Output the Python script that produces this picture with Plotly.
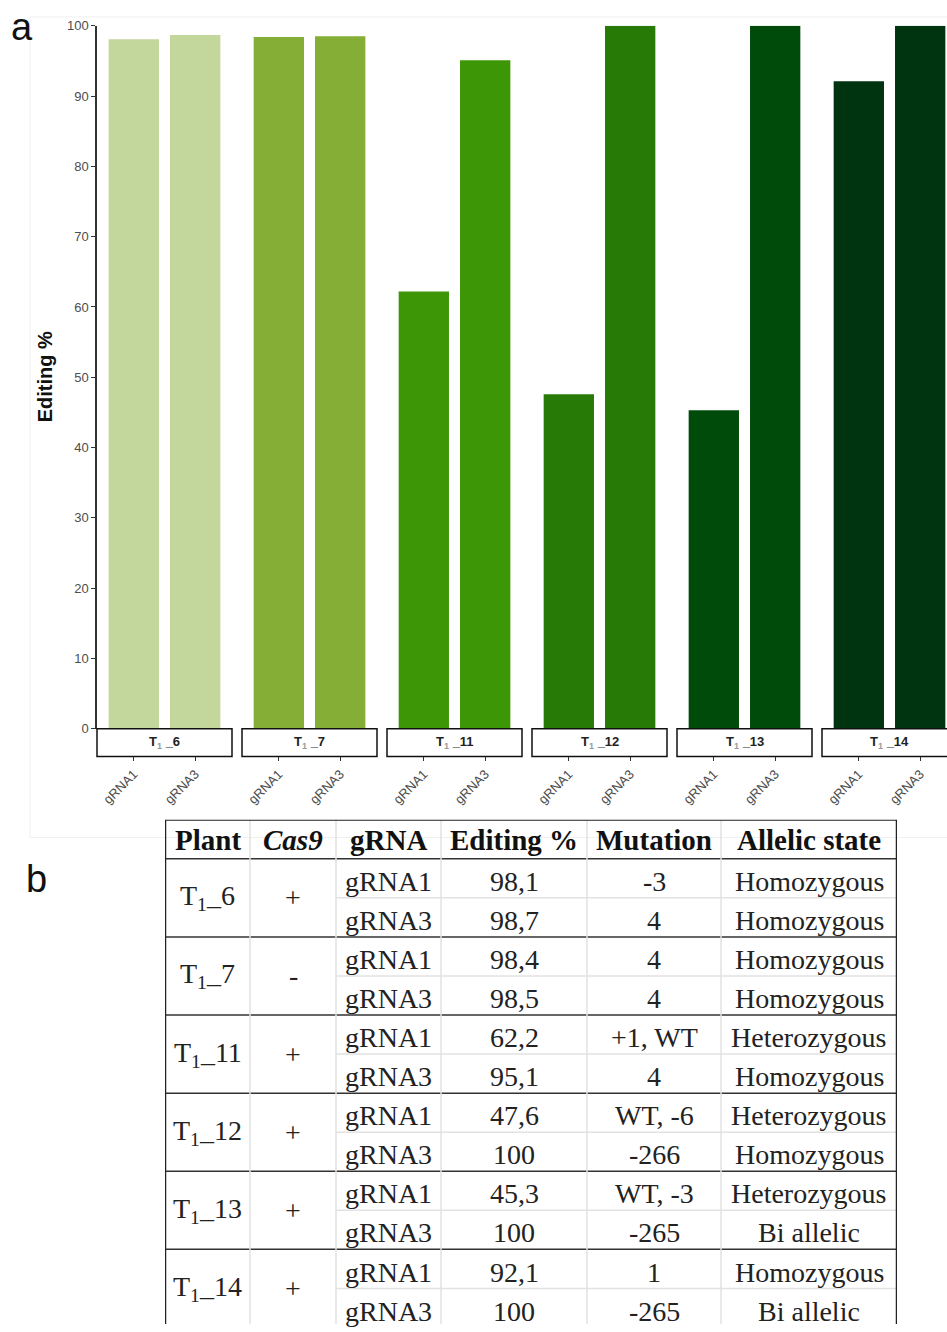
import plotly.graph_objects as go

# ---------------- data ----------------
plants = ["T1_6", "T1_7", "T1_11", "T1_12", "T1_13", "T1_14"]
plant_nums = ["6", "7", "11", "12", "13", "14"]
grnas = ["gRNA1", "gRNA3"]
editing = [[98.1, 98.7], [98.4, 98.5], [62.2, 95.1], [47.6, 100], [45.3, 100], [92.1, 100]]
cas9 = ["+", "-", "+", "+", "+", "+"]
mutation = [["-3", "4"], ["4", "4"], ["+1, WT", "4"], ["WT, -6", "-266"], ["WT, -3", "-265"], ["1", "-265"]]
allelic = [["Homozygous", "Homozygous"], ["Homozygous", "Homozygous"],
           ["Heterozygous", "Homozygous"], ["Heterozygous", "Homozygous"],
           ["Heterozygous", "Bi allelic"], ["Homozygous", "Bi allelic"]]
colors = ["#c3d69b", "#84ae36", "#3d9605", "#267a05", "#004b0a", "#003310"]
headers = ["<b>Plant</b>", "<b><i>Cas9</i></b>", "<b>gRNA</b>", "<b>Editing %</b>",
           "<b>Mutation</b>", "<b>Allelic state</b>"]
y_ticks = list(range(0, 101, 10))

# ---------------- layout constants ----------------
W, H = 947, 1332
def px_x(p): return p / W
def px_y(p): return 1 - p / H

panel_left0, panel_w, panel_gap = 97, 135, 10
y_top_px, y_bot_px = 19, 730
strip_bot_px = 758
px_per_unit = panel_w / 2.2
sans = "Liberation Sans, Arial"

fig = go.Figure()
layout = dict(width=W, height=H, margin=dict(l=0, r=0, t=0, b=0),
              paper_bgcolor="white", plot_bgcolor="white", showlegend=False)
shapes, annotations = [], []

# faint frame of panel a
shapes.append(dict(type="rect", xref="paper", yref="paper", x0=px_x(30), x1=px_x(960),
                   y0=px_y(840), y1=px_y(10), line=dict(color="#f0f0f0", width=1), layer="below"))

for i in range(6):
    left = panel_left0 + i * (panel_w + panel_gap)
    right = left + panel_w
    dom_right = min(right, W)
    rng_hi = -0.6 + (dom_right - left) / px_per_unit
    xn = "" if i == 0 else str(i + 1)
    fig.add_trace(go.Bar(x=grnas, y=editing[i], marker_color=colors[i], width=0.82,
                         marker_line_width=0, xaxis="x" + xn, yaxis="y" + xn,
                         hovertemplate="%{x}: %{y}<extra></extra>"))
    layout["xaxis" + xn] = dict(domain=[px_x(left), px_x(dom_right)], anchor="free",
                                position=px_y(strip_bot_px), range=[-0.6, rng_hi],
                                type="category", showline=False, showgrid=False,
                                zeroline=False, ticks="outside", ticklen=4,
                                tickcolor="#333", tickwidth=1, tickangle=-45,
                                tickfont=dict(family=sans, size=13, color="#4d4d4d"))
    ydict = dict(domain=[px_y(y_bot_px), px_y(y_top_px)], anchor="x" + xn,
                 range=[0, 100], showgrid=False, zeroline=False)
    if i == 0:
        ydict.update(showline=True, linecolor="#333", linewidth=1.5, ticks="outside",
                     ticklen=4, tickcolor="#333", tickvals=y_ticks,
                     tickfont=dict(family=sans, size=13, color="#4d4d4d"))
    else:
        ydict.update(visible=False, matches="y")
    layout["yaxis" + xn] = ydict
    # strip box
    shapes.append(dict(type="rect", xref="paper", yref="paper",
                       x0=px_x(left), x1=px_x(right), y0=px_y(strip_bot_px), y1=px_y(y_bot_px),
                       line=dict(color="#111", width=1.5), fillcolor="white", layer="above"))
    annotations.append(dict(xref="paper", yref="paper", x=px_x((left + right) / 2),
                            y=px_y((y_bot_px + strip_bot_px) / 2), showarrow=False,
                            xanchor="center", yanchor="middle",
                            text="<b>T<sub><span style='color:#999'>1</span></sub> _" + plant_nums[i] + "</b>",
                            font=dict(family=sans, size=13, color="#222")))

# y-axis title
annotations.append(dict(xref="paper", yref="paper", x=px_x(45), y=px_y((y_top_px + y_bot_px) / 2),
                        xanchor="center", yanchor="middle",
                        text="<b>Editing %</b>", textangle=-90, showarrow=False,
                        font=dict(family=sans, size=20, color="#111")))
# panel labels
annotations.append(dict(xref="paper", yref="paper", x=px_x(22), y=px_y(20), text="a",
                        xanchor="center", yanchor="middle",
                        showarrow=False, font=dict(family=sans, size=38, color="#111")))
annotations.append(dict(xref="paper", yref="paper", x=px_x(36), y=px_y(882), text="b",
                        xanchor="center", yanchor="middle",
                        showarrow=False, font=dict(family=sans, size=38, color="#111")))

# ---------------- table ----------------
tbl_left, tbl_right, tbl_top = 165, 897, 822
row_h = 39.5
col_edges = [0, 85, 171, 276, 422, 556, 732]
n_rows_visible = (H - tbl_top) / row_h
layout["xaxis7"] = dict(domain=[px_x(tbl_left), px_x(tbl_right)], range=[0, col_edges[-1]],
                        visible=False, anchor="y7")
layout["yaxis7"] = dict(domain=[0, px_y(tbl_top)], range=[n_rows_visible, 0],
                        visible=False, anchor="x7")
fig.add_trace(go.Scatter(x=[0], y=[0], mode="markers", marker=dict(opacity=0),
                         xaxis="x7", yaxis="y7", hoverinfo="skip"))

serif = "Liberation Serif, Times New Roman, serif"
tfont = dict(family=serif, size=28, color="#222")
hfont = dict(family=serif, size=29, color="#111")
def cx(c): return (col_edges[c] + col_edges[c + 1]) / 2

for c, h in enumerate(headers):
    annotations.append(dict(xref="x7", yref="y7", x=cx(c), y=0.52, text=h, showarrow=False,
                            xanchor="center", yanchor="middle", font=hfont))

def fmt(v):
    return str(int(v)) if v == int(v) else ("%.1f" % v).replace(".", ",")

for g in range(6):
    top = 1 + 2 * g
    annotations.append(dict(xref="x7", yref="y7", x=cx(0), y=top + 1,
                            xanchor="center", yanchor="middle",
                            text="T<sub>1</sub>_" + plant_nums[g], showarrow=False, font=tfont))
    annotations.append(dict(xref="x7", yref="y7", x=cx(1), y=top + 1,
                            xanchor="center", yanchor="middle",
                            text=cas9[g], showarrow=False, font=tfont))
    for r in range(2):
        yc = top + r + 0.58
        vals = [grnas[r], fmt(editing[g][r]), mutation[g][r], allelic[g][r]]
        for k, v in enumerate(vals):
            annotations.append(dict(xref="x7", yref="y7", x=cx(k + 2), y=yc, text=v,
                                    xanchor="center", yanchor="middle",
                                    showarrow=False, font=tfont))
    # light line between the two gRNA rows
    shapes.append(dict(type="line", xref="x7", yref="y7", x0=col_edges[2], x1=col_edges[-1],
                       y0=top + 1, y1=top + 1, line=dict(color="#e2e2e2", width=1.5)))
    # dark group separator
    shapes.append(dict(type="line", xref="x7", yref="y7", x0=0, x1=col_edges[-1],
                       y0=top, y1=top, line=dict(color="#333", width=1.5)))

for e in col_edges[1:-1]:
    shapes.append(dict(type="line", xref="x7", yref="y7", x0=e, x1=e, y0=0, y1=n_rows_visible,
                       line=dict(color="#e2e2e2", width=1.5)))
# outer border
shapes.append(dict(type="line", xref="x7", yref="y7", x0=0, x1=col_edges[-1], y0=0, y1=0,
                   line=dict(color="#222", width=2)))
for e in (0, col_edges[-1]):
    shapes.append(dict(type="line", xref="x7", yref="y7", x0=e, x1=e, y0=0, y1=n_rows_visible,
                       line=dict(color="#222", width=2.5)))

layout["shapes"] = shapes
layout["annotations"] = annotations
fig.update_layout(**layout)
fig.write_html("out.html", post_script="document.body.style.margin='0';",
               config={"displayModeBar": False})
